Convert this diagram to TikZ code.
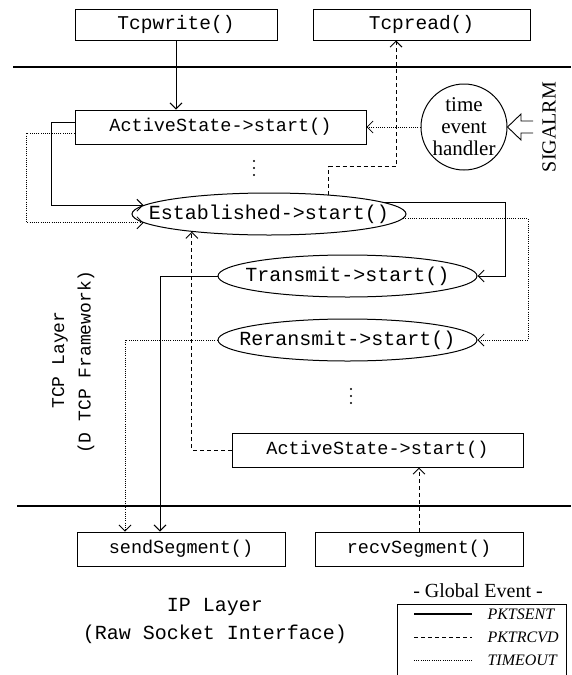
\documentclass[tikz,border=0pt]{standalone}
\usepackage{fontspec}
\setmainfont{Liberation Serif}
\newfontfamily\monof{Liberation Mono}
\usetikzlibrary{arrows.meta,calc,shapes.geometric}
\begin{document}
\begin{tikzpicture}[x=1pt,y=-1pt,
  box/.style={draw, line width=1pt, inner sep=0pt, font=\monof\fontsize{18.5}{20}\selectfont},
  topbox/.style={box, font=\monof\fontsize{19.5}{21}\selectfont},
  oval/.style={draw, ellipse, line width=1pt, inner sep=0pt, minimum height=42pt, font=\monof\fontsize{20}{22}\selectfont},
  conn/.style={line width=0.9pt},
  tip/.style={-{Straight Barb[length=6pt,width=12pt]}},
  pkt/.style={conn},
  rcv/.style={conn, dash pattern=on 4pt off 3pt},
  tmo/.style={conn, line width=0.8pt, dash pattern=on 1pt off 1.2pt},
  sep/.style={line width=2.2pt},
  mono/.style={font=\monof\fontsize{19}{21}\selectfont},
  legtext/.style={anchor=west, font=\itshape\fontsize{16}{18}\selectfont},
]
\useasboundingbox (0,0) rectangle (571,675);

% layer separators
\coordinate (s1a) at (13,67); \coordinate (s1b) at (571,67);
\coordinate (s2a) at (17,506); \coordinate (s2b) at (571,506);
\draw[sep] (s1a) -- (s1b);
\draw[sep] (s2a) -- (s2b);

% boxes
\node[topbox, minimum width=202pt, minimum height=31pt] (tw) at (176,24.5) {Tcpwrite()};
\node[topbox, minimum width=217pt, minimum height=31pt] (trd) at (421.5,24.5) {Tcpread()};
\node[box, minimum width=291pt, minimum height=34pt] (as1) at (220.5,127) {ActiveState->start()};
\node[box, minimum width=291pt, minimum height=34pt] (as2) at (377.5,450) {ActiveState->start()};
\node[box, minimum width=208pt, minimum height=34pt] (ss) at (181,549) {sendSegment()};
\node[box, minimum width=208pt, minimum height=34pt] (rs) at (419,549) {recvSegment()};

% ellipses
\node[oval, minimum width=274pt] (est) at (269,214) {\makebox[0pt]{Established->start()}};
\node[oval, minimum width=259pt] (tr) at (347.5,276) {\makebox[0pt]{Transmit->start()}};
\node[oval, minimum width=259pt] (rr) at (347.5,340) {\makebox[0pt]{Reransmit->start()}};

% time event handler
\node[draw, circle, line width=1pt, minimum size=86pt, inner sep=0pt] (teh) at (464,127) {};
\node[align=center, font=\fontsize{21}{22}\selectfont] (tehtxt) at (teh.center) {time\\event\\handler};
\node[rotate=90, font=\fontsize{20}{22}\selectfont] (sig) at (549,127) {SIGALRM};
\draw[line width=0.9pt] (533,121) -- (521,121) -- (521,114) -- (teh.east) -- (521,140) -- (521,133) -- (533,133);

% vertical dots
\foreach \yy in {161,168,175} \fill (254,\yy) circle (1.1pt);
\foreach \yy in {389,396,403} \fill (351,\yy) circle (1.1pt);

% side labels
\node[rotate=90, mono, font=\monof\fontsize{18}{20}\selectfont] (tcpl) at (60,360) {TCP Layer};
\node[rotate=90, mono, font=\monof\fontsize{18}{20}\selectfont] (tcpf) at (86,362) {(D TCP Framework)};
\node[mono, font=\monof\fontsize{20}{22}\selectfont] (ip1) at (215,607) {IP Layer};
\node[mono, font=\monof\fontsize{20}{22}\selectfont] (ip2) at (215,634) {(Raw Socket Interface)};

% connectors
\draw[pkt, tip] (tw.south) -- (as1.north -| tw.south);
\draw[tmo, tip] (teh.west) -- (as1.east);
\draw[rcv, tip] (est.18.5) -- ++(0,-28) -| ($(trd.south)+(-25.5,0)$);
\draw[pkt, tip] ($(as1.west)+(0,-5)$) -- ++(-23,0) |- (est.176);
\draw[tmo, tip] ($(as1.west)+(0,6)$) -- ++(-48,0) |- (est.184);
\coordinate (rsol) at (505,0);
\coordinate (rdot) at (528,0);
\draw[pkt, tip] (est.6) -| (rsol |- tr.east) -- (tr.east);
\draw[tmo, tip] (est.-2) -| (rdot |- rr.east) -- (rr.east);
\draw[pkt, tip] (tr.west) -| ($(ss.north)+(-21,0)$);
\draw[tmo, tip] (rr.west) -| ($(ss.north)+(-56,0)$);
\draw[rcv, tip] (as2.west) -| (est.193.5);
\draw[rcv, tip] (rs.north) -- (as2.south -| rs.north);

% legend
\node[font=\fontsize{20}{22}\selectfont] (ge) at (478,591) {- Global Event -};
\draw[line width=1pt] (397,675) -- (397,604) -- (566,604) -- (566,675);
\coordinate (l1a) at (414,614); \coordinate (l1b) at (472,614);
\coordinate (l2a) at (414,637); \coordinate (l2b) at (472,637);
\coordinate (l3a) at (414,660); \coordinate (l3b) at (472,660);
\draw[pkt, line width=1.2pt] (l1a) -- (l1b);
\draw[rcv] (l2a) -- (l2b);
\draw[tmo] (l3a) -- (l3b);
\node[legtext] (lg1) at (484,614) {PKTSENT};
\node[legtext] (lg2) at (484,637) {PKTRCVD};
\node[legtext] (lg3) at (484,660) {TIMEOUT};
\end{tikzpicture}
\end{document}
